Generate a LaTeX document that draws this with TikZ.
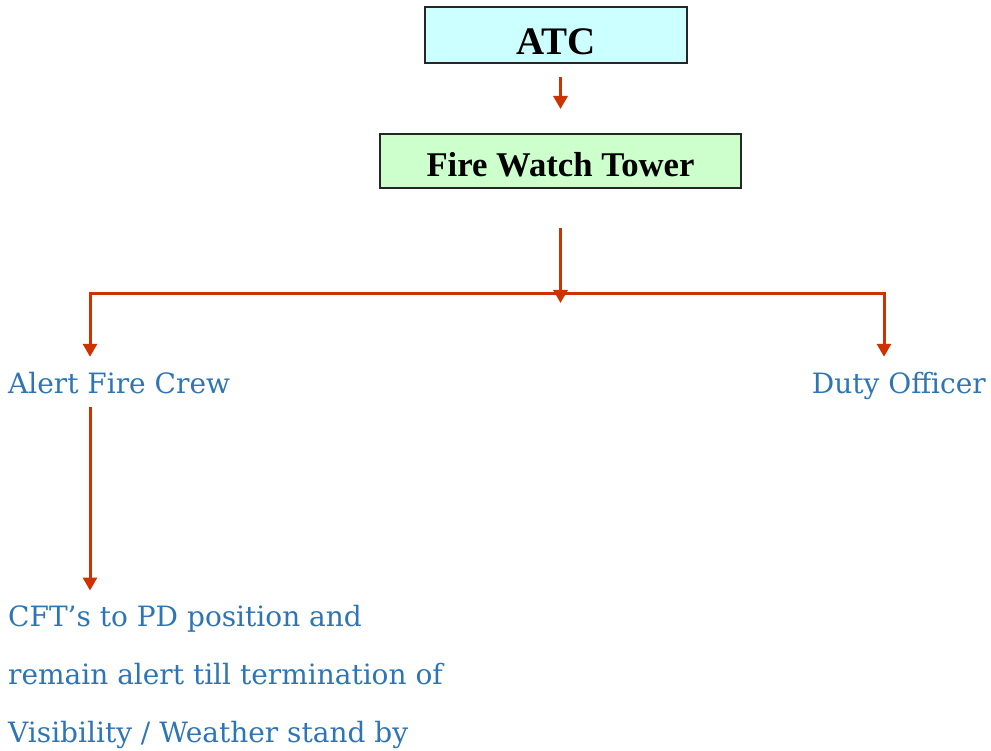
\documentclass[tikz,border=0pt]{standalone}
\usepackage{fontspec}
\setmainfont{Liberation Serif}
\newfontfamily\labelfont{DejaVu Serif}
\usetikzlibrary{arrows.meta}
\definecolor{arrowred}{RGB}{204,51,0}
\definecolor{textblue}{RGB}{46,117,182}
\definecolor{boxcyan}{RGB}{204,255,255}
\definecolor{boxgreen}{RGB}{204,255,204}

\begin{document}
\begin{tikzpicture}[x = 1pt, y = -1pt,
  box/.style = {draw = black!85, line width = 2pt, inner sep = 0pt},
  lbl/.style = {inner sep = 0pt, text = textblue, font = \labelfont\fontsize{28}{58}\selectfont},
  link/.style = {line width = 3pt, color = arrowred, line join = miter},
  arr/.style = {link, -{Triangle[width = 14pt, length = 13pt]}},
  arrs/.style = {link, {Triangle[width = 14pt, length = 13pt]}-{Triangle[width = 14pt, length = 13pt]}}]
\useasboundingbox (0, 0) rectangle (991, 751);
\node[box, fill = boxcyan, minimum width = 262pt, minimum height = 56pt, text height = 40pt,
  font = \bfseries\fontsize{39}{44}\selectfont] (atc) at (556, 35) {ATC};
\node[box, fill = boxgreen, minimum width = 361pt, minimum height = 54pt, text height = 32pt,
  font = \bfseries\fontsize{34.7}{40}\selectfont] (fwt) at (560.5, 161) {Fire Watch Tower};
\node[lbl, anchor = base west, text height = 21pt, text depth = 6pt] (crew) at (8, 393) {Alert Fire Crew};
\node[lbl, anchor = base east, text height = 21pt, text depth = 6pt] (duty) at (986, 393) {Duty Officer};
% base of a multi-line node is its last line
\node[lbl, anchor = base west, align = left] (cft) at (8, 742)
  {CFT’s to PD position and\\remain alert till termination of\\Visibility / Weather stand by};
\coordinate (hub) at (560.5, 303);
\coordinate (busl) at (90, 294);
\coordinate (busr) at (884, 294);
\draw[arr, shorten <= 13pt, shorten >= 24pt] (atc.south -| fwt.north) -- (fwt.north);
\draw[arrs, shorten <= 15pt, shorten >= 15pt] (busl |- crew.north) -- (busl) -- (busr) -- (busr |- duty.north);
\draw[arr, shorten <= 39pt] (fwt.south) -- (hub);
\draw[arr, shorten <= 8pt, shorten >= 14pt] (busl |- crew.south) -- (busl |- cft.north);
\end{tikzpicture}
\end{document}
